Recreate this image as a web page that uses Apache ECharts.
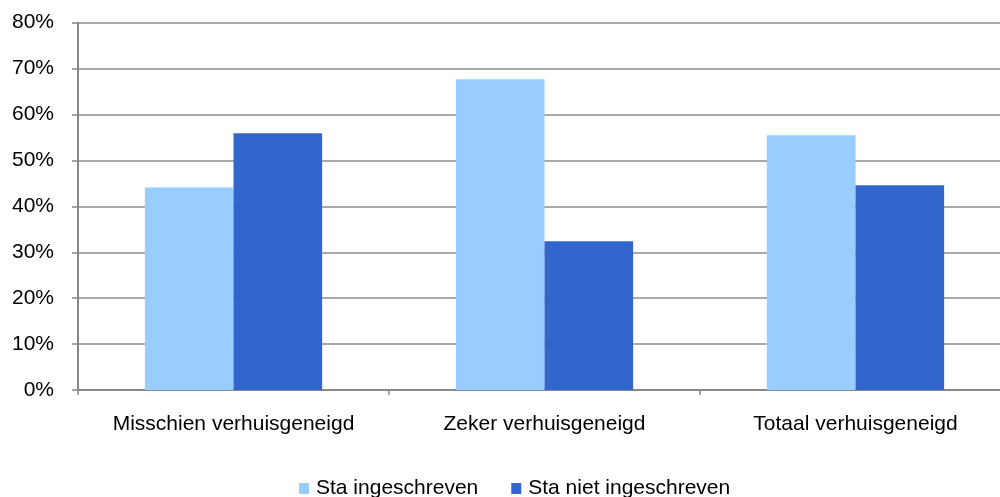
<!DOCTYPE html>
<html><head><meta charset="utf-8">
<script src="https://cdn.jsdelivr.net/npm/echarts@6/dist/echarts.min.js"></script>
<style>html,body{margin:0;padding:0;background:#fff;overflow:hidden;width:1000px;height:497px}#c{width:1012px;height:497px}</style>
</head><body><div id="c"></div>
<script>
const categories = ['Misschien verhuisgeneigd', 'Zeker verhuisgeneigd', 'Totaal verhuisgeneigd'];
const seriesNames = ['Sta ingeschreven', 'Sta niet ingeschreven'];
const staIngeschreven = [44.1, 67.7, 55.5];
const staNietIngeschreven = [55.9, 32.4, 44.6];
const yTicks = [0, 10, 20, 30, 40, 50, 60, 70, 80];

const chart = echarts.init(document.getElementById('c'), null, {renderer: 'canvas'});
const font = 'Liberation Sans, Arial, sans-serif';
chart.setOption({
  animation: false,
  textStyle: {fontFamily: font},
  grid: {left: 78, top: 22.7, width: 933, height: 367.3, containLabel: false},
  legend: {
    data: seriesNames, left: 294, top: 473, icon: 'rect', itemWidth: 10, itemHeight: 11,
    itemGap: 33, textStyle: {fontSize: 21, color: '#000', fontFamily: font, padding: [0, 0, 0, 2]}
  },
  xAxis: {
    type: 'category', data: categories,
    axisLine: {lineStyle: {color: '#888', width: 2}},
    axisTick: {show: true, interval: 0, length: 5, lineStyle: {color: '#888', width: 1.5}},
    axisLabel: {interval: 0, fontSize: 21, color: '#000', margin: 24, fontFamily: font}
  },
  yAxis: {
    type: 'value', min: yTicks[0], max: yTicks[yTicks.length - 1], interval: 10,
    axisLine: {show: true, lineStyle: {color: '#888', width: 2}},
    axisTick: {show: true, length: 6, lineStyle: {color: '#888', width: 1.5}},
    axisLabel: {fontSize: 21, color: '#000', margin: 24, formatter: v => v + '%', fontFamily: font},
    splitLine: {lineStyle: {color: '#8c8c8c', width: 1.6}}
  },
  series: [
    {name: seriesNames[0], type: 'bar', data: staIngeschreven, barGap: '0%', barCategoryGap: '43%',
     itemStyle: {color: '#99CCFF'}},
    {name: seriesNames[1], type: 'bar', data: staNietIngeschreven, barGap: '0%', barCategoryGap: '43%',
     itemStyle: {color: '#3366CC'}}
  ]
});
</script></body></html>
